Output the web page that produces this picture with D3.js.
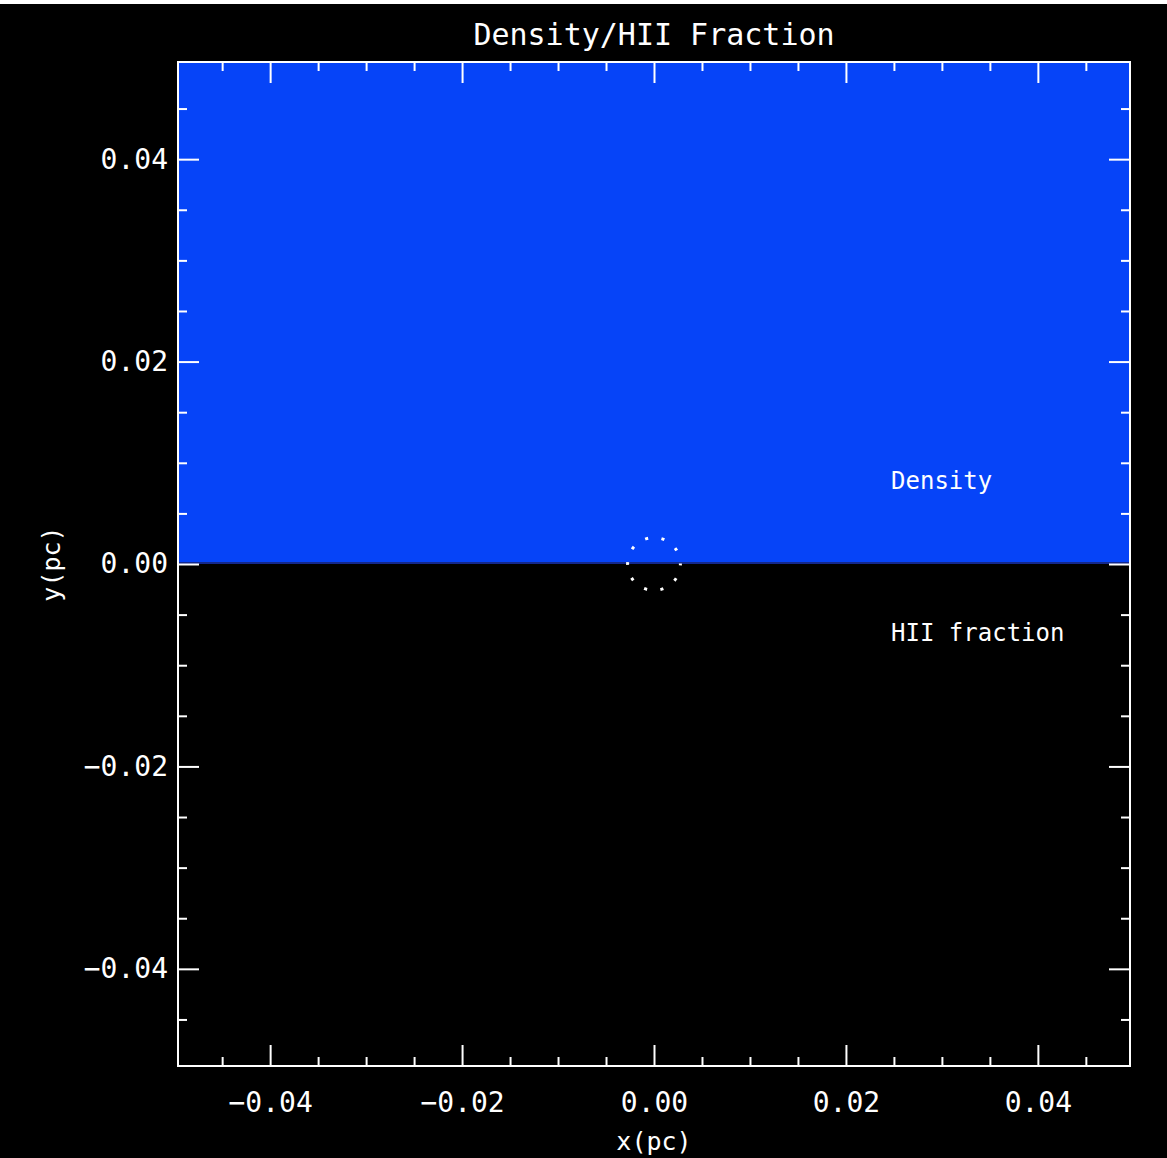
<!DOCTYPE html>
<html>
<head>
<meta charset="utf-8">
<script src="https://cdn.jsdelivr.net/npm/d3@7"></script>
<style>
  body { margin: 0; background: #000; }
  text { font-family: "DejaVu Sans Mono", monospace; fill: #fff; }
</style>
</head>
<body>
<div id="chart"></div>
<script>
// data
const title = "Density/HII Fraction";
const xLabel = "x(pc)";
const yLabel = "y(pc)";
const xDomain = [-0.0496, 0.0496];
const yDomain = [-0.0496, 0.0496];
const majorTicks = [-0.04, -0.02, 0.00, 0.02, 0.04];
const minorTicks = [-0.045, -0.035, -0.03, -0.025, -0.015, -0.01, -0.005,
                    0.005, 0.01, 0.015, 0.025, 0.03, 0.035, 0.045];
const densityBand = [0.0, 0.0496];   // y range filled by density (blue)
const regionLabels = ["Density", "HII fraction"];
const regionLabelPos = [[0.0247, 0.0074], [0.0247, -0.0076]];
const frontRadius = 0.00275;          // dotted ring at origin
const frontDots = 10;

const width = 1167, height = 1158;
const margin = {left: 178, right: 37, top: 62, bottom: 92};

const svg = d3.select("#chart").append("svg")
    .attr("width", width)
    .attr("height", height);

// white strip on top of the image
svg.append("rect").attr("x", 0).attr("y", 0).attr("width", width).attr("height", 4).attr("fill", "#fff");

const x = d3.scaleLinear().domain(xDomain).range([margin.left, width - margin.right]);
const y = d3.scaleLinear().domain(yDomain).range([height - margin.bottom, margin.top]);

// density region
svg.append("rect")
    .attr("x", x(xDomain[0]))
    .attr("y", y(densityBand[1]))
    .attr("width", x(xDomain[1]) - x(xDomain[0]))
    .attr("height", y(densityBand[0]) - y(densityBand[1]))
    .attr("fill", "#0644f8");

svg.append("line")
    .attr("x1", x(xDomain[0])).attr("x2", x(xDomain[1]))
    .attr("y1", y(0) - 1).attr("y2", y(0) - 1)
    .attr("stroke", "#14288c").attr("stroke-width", 2);

// dotted ring
const rPx = x(frontRadius) - x(0);
const circ = 2 * Math.PI * rPx;
svg.append("circle")
    .attr("cx", x(0)).attr("cy", y(0)).attr("r", rPx)
    .attr("fill", "none")
    .attr("stroke", "#fff")
    .attr("stroke-width", 3)
    .attr("stroke-dasharray", "3," + (circ / frontDots - 3))
    .attr("stroke-dashoffset", 1.5);

// axes
const fmt = d3.format(".2f");
const axisStyle = g => {
  g.select(".domain").remove();
  g.selectAll("line").attr("stroke", "#fff").attr("stroke-width", 2);
  g.selectAll("text").attr("fill", "#fff").style("font-size", "28px")
    .style("font-family", "'DejaVu Sans Mono', monospace");
};

// bottom
svg.append("g").attr("transform", "translate(0," + y(yDomain[0]) + ")")
    .call(d3.axisBottom(x).tickValues(majorTicks).tickFormat(fmt).tickSizeInner(-21).tickSizeOuter(0).tickPadding(26))
    .call(axisStyle);
svg.append("g").attr("transform", "translate(0," + y(yDomain[0]) + ")")
    .call(d3.axisBottom(x).tickValues(minorTicks).tickFormat("").tickSizeInner(-9).tickSizeOuter(0))
    .call(axisStyle);
// top
svg.append("g").attr("transform", "translate(0," + y(yDomain[1]) + ")")
    .call(d3.axisTop(x).tickValues(majorTicks).tickFormat("").tickSizeInner(-21).tickSizeOuter(0))
    .call(axisStyle);
svg.append("g").attr("transform", "translate(0," + y(yDomain[1]) + ")")
    .call(d3.axisTop(x).tickValues(minorTicks).tickFormat("").tickSizeInner(-9).tickSizeOuter(0))
    .call(axisStyle);
// left
svg.append("g").attr("transform", "translate(" + x(xDomain[0]) + ",0)")
    .call(d3.axisLeft(y).tickValues(majorTicks).tickFormat(fmt).tickSizeInner(-21).tickSizeOuter(0).tickPadding(10))
    .call(axisStyle);
svg.append("g").attr("transform", "translate(" + x(xDomain[0]) + ",0)")
    .call(d3.axisLeft(y).tickValues(minorTicks).tickFormat("").tickSizeInner(-9).tickSizeOuter(0))
    .call(axisStyle);
// right
svg.append("g").attr("transform", "translate(" + x(xDomain[1]) + ",0)")
    .call(d3.axisRight(y).tickValues(majorTicks).tickFormat("").tickSizeInner(-21).tickSizeOuter(0))
    .call(axisStyle);
svg.append("g").attr("transform", "translate(" + x(xDomain[1]) + ",0)")
    .call(d3.axisRight(y).tickValues(minorTicks).tickFormat("").tickSizeInner(-9).tickSizeOuter(0))
    .call(axisStyle);

// frame
svg.append("rect")
    .attr("x", x(xDomain[0])).attr("y", y(yDomain[1]))
    .attr("width", x(xDomain[1]) - x(xDomain[0]))
    .attr("height", y(yDomain[0]) - y(yDomain[1]))
    .attr("fill", "none").attr("stroke", "#fff").attr("stroke-width", 2);

// title and axis labels
svg.append("text")
    .attr("x", (x(xDomain[0]) + x(xDomain[1])) / 2)
    .attr("y", 45)
    .attr("text-anchor", "middle")
    .style("font-size", "30px")
    .text(title);

svg.append("text")
    .attr("x", x(0))
    .attr("y", 1150)
    .attr("text-anchor", "middle")
    .style("font-size", "25px")
    .text(xLabel);

svg.append("text")
    .attr("transform", "translate(60," + y(0) + ") rotate(-90)")
    .attr("text-anchor", "middle")
    .style("font-size", "25px")
    .text(yLabel);

// region labels
svg.selectAll(".region")
    .data(regionLabels)
    .enter()
    .append("text")
    .attr("class", "region")
    .attr("x", (d, i) => x(regionLabelPos[i][0]))
    .attr("y", (d, i) => y(regionLabelPos[i][1]))
    .style("font-size", "24px")
    .text(d => d);
</script>
</body>
</html>
